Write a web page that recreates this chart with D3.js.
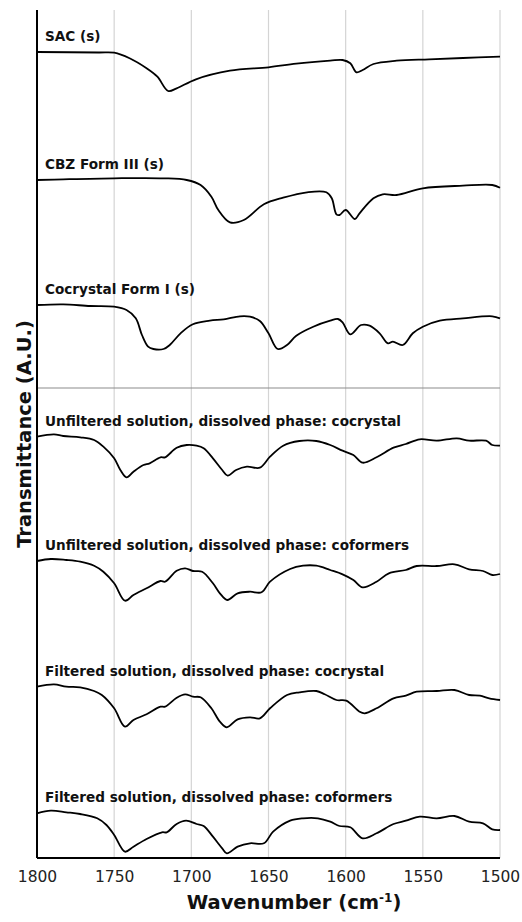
<!DOCTYPE html>
<html>
<head>
<meta charset="utf-8">
<script src="https://cdn.jsdelivr.net/npm/d3@7"></script>
<style>
  body { margin: 0; background: #fff; }
  text { font-family: "DejaVu Sans", Verdana, sans-serif; }
</style>
</head>
<body>
<svg id="chart"></svg>
<script>
// Spectra (wavenumber in cm-1, transmittance in offset A.U.)
const sacWn = [1800, 1760, 1750, 1740, 1729, 1722, 1715, 1709.5, 1697, 1675, 1650, 1632, 1610, 1602, 1597, 1593, 1589, 1582, 1567, 1546, 1524, 1500];
const sacT  = [80.6, 80.55, 80.53, 79.97, 78.97, 78.13, 76.7, 76.97, 77.87, 78.73, 79.07, 79.43, 79.73, 79.8, 79.47, 78.57, 78.8, 79.4, 79.73, 79.87, 80.0, 80.13];

const cbzWn = [1800, 1783, 1750, 1718, 1703, 1694, 1687, 1682.5, 1675, 1666, 1653, 1640.5, 1625, 1612.5, 1609, 1606, 1604, 1600, 1594, 1591, 1582, 1576, 1567, 1550, 1524, 1505, 1500];
const cbzT  = [67.8, 67.87, 67.97, 67.97, 67.8, 67.3, 66.13, 64.8, 63.57, 63.8, 65.37, 66.03, 66.57, 66.57, 65.97, 64.37, 64.3, 64.8, 63.9, 64.47, 65.97, 66.37, 66.3, 66.97, 67.23, 67.3, 67.03];

const cocWn = [1800, 1783, 1765.5, 1750, 1742, 1736, 1732, 1728, 1724.6, 1718, 1714, 1707, 1699, 1688, 1679, 1668.5, 1662, 1655.6, 1650, 1644, 1638, 1632, 1621, 1610, 1605, 1602, 1597, 1590, 1584.5, 1578, 1572.6, 1569.4, 1563, 1556.5, 1550, 1539, 1524, 1505, 1500];
const cocT  = [55.3, 55.37, 55.2, 55.13, 54.8, 53.97, 52.3, 51.13, 50.9, 50.9, 51.3, 52.47, 53.37, 53.73, 53.87, 54.17, 54.13, 53.7, 52.47, 50.9, 51.3, 52.23, 53.13, 53.73, 53.9, 53.57, 52.37, 53.3, 53.23, 52.47, 51.47, 51.63, 51.3, 52.47, 53.13, 53.73, 53.97, 54.17, 53.97];

const ucWn = [1800, 1789, 1783, 1772, 1763, 1757, 1750, 1746, 1742, 1737.5, 1731, 1727, 1720, 1717, 1709.5, 1703, 1696.6, 1692, 1686, 1680, 1676.5, 1671, 1664, 1655.6, 1649, 1640.5, 1630, 1619, 1610, 1602, 1595, 1589, 1580, 1569, 1561, 1552, 1541, 1528, 1520, 1509, 1505, 1500];
const ucT  = [42.13, 42.37, 42.2, 42.07, 41.8, 41.13, 39.97, 38.8, 38.07, 38.63, 39.3, 39.47, 40.07, 40.07, 41.03, 41.3, 41.23, 40.97, 39.97, 38.8, 38.23, 38.8, 39.13, 39.03, 40.13, 41.23, 41.7, 41.7, 41.3, 40.73, 40.3, 39.53, 40.07, 41.03, 41.4, 41.87, 41.73, 41.97, 41.73, 41.73, 41.3, 41.23];

const ufWn = [1800, 1791, 1781, 1772, 1763, 1757, 1750, 1743, 1737.5, 1729, 1720, 1717, 1709.5, 1704, 1699, 1693, 1686, 1681.5, 1676.7, 1670, 1662, 1654.5, 1649, 1636, 1627.6, 1619, 1610, 1602, 1595, 1589, 1580, 1572, 1561, 1554, 1541, 1529.5, 1520, 1511, 1505, 1500];
const ufT  = [29.7, 29.9, 29.8, 29.63, 29.23, 28.63, 27.47, 25.73, 26.3, 26.97, 27.7, 27.63, 28.73, 28.97, 28.7, 28.63, 27.47, 26.47, 25.8, 26.47, 26.63, 26.57, 27.63, 28.9, 29.23, 29.23, 28.8, 28.37, 27.8, 27.07, 27.63, 28.47, 28.8, 29.2, 29.2, 29.37, 28.87, 28.7, 28.3, 28.4];

const fcWn = [1800, 1789, 1781, 1772, 1763, 1758, 1750, 1743, 1737.5, 1729, 1720, 1717, 1709.5, 1704, 1699, 1694, 1687, 1681.5, 1677, 1670, 1662, 1655.6, 1649, 1638, 1630, 1619, 1613.6, 1606, 1599.6, 1591, 1587.7, 1580, 1569, 1561, 1554, 1541, 1529.5, 1520, 1513, 1507, 1500];
const fcT  = [17.13, 17.37, 17.13, 17.07, 16.7, 16.3, 14.97, 13.13, 13.8, 14.37, 15.13, 15.13, 16.03, 16.37, 16.13, 16.07, 14.97, 13.63, 13.07, 13.87, 14.07, 13.97, 14.97, 16.3, 16.57, 16.7, 16.37, 15.8, 15.73, 14.63, 14.47, 14.97, 15.97, 16.23, 16.63, 16.7, 16.8, 16.3, 16.23, 15.97, 15.8];

const ffWn = [1800, 1791, 1781, 1772, 1761, 1755, 1750, 1743, 1737.5, 1729, 1719, 1716, 1709.5, 1703.4, 1696.6, 1692, 1686, 1680, 1677, 1670, 1662, 1653, 1647, 1636, 1627.6, 1618, 1610, 1604, 1597, 1589, 1580, 1569, 1561, 1552, 1541, 1529.5, 1520, 1511, 1505, 1500];
const ffT  = [4.47, 4.73, 4.57, 4.4, 3.97, 3.3, 2.3, 0.63, 1.13, 1.9, 2.57, 2.57, 3.4, 3.73, 3.4, 3.2, 2.13, 0.97, 0.47, 1.13, 1.47, 1.47, 2.63, 3.73, 3.97, 3.97, 3.63, 3.2, 3.07, 1.97, 2.47, 3.4, 3.73, 4.13, 3.97, 4.2, 3.63, 3.47, 2.87, 2.8];

const seriesNames = [
    "SAC (s)",
    "CBZ Form III (s)",
    "Cocrystal Form I (s)",
    "Unfiltered solution, dissolved phase: cocrystal",
    "Unfiltered solution, dissolved phase: coformers",
    "Filtered solution, dissolved phase: cocrystal",
    "Filtered solution, dissolved phase: coformers"
];
const seriesWn = [sacWn, cbzWn, cocWn, ucWn, ufWn, fcWn, ffWn];
const seriesT = [sacT, cbzT, cocT, ucT, ufT, fcT, ffT];

const xTicks = [1800, 1750, 1700, 1650, 1600, 1550, 1500];
const xDomain = [1800, 1500];
const yDomain = [0, 84.8];
const dividerLevel = 47.0;   // separates solid spectra from solution spectra

// ---- layout
const config = {
    width: 522,
    height: 922,
    margin: { top: 10, right: 22, bottom: 64, left: 37 }
};
const innerW = config.width - config.margin.left - config.margin.right;
const innerH = config.height - config.margin.top - config.margin.bottom;

const svg = d3.select("#chart")
    .attr("width", config.width)
    .attr("height", config.height);

const chart = svg.append("g")
    .attr("transform", `translate(${config.margin.left},${config.margin.top})`);

const xScale = d3.scaleLinear().domain(xDomain).range([0, innerW]);
const yScale = d3.scaleLinear().domain(yDomain).range([innerH, 0]);

// vertical gridlines
chart.selectAll(".grid")
    .data(xTicks.slice(1))
    .enter()
    .append("line")
    .attr("class", "grid")
    .attr("x1", d => xScale(d))
    .attr("x2", d => xScale(d))
    .attr("y1", 0)
    .attr("y2", innerH)
    .attr("stroke", "#d4d4d4")
    .attr("stroke-width", 1.2);

// divider between solids and solutions
chart.append("line")
    .attr("x1", 0)
    .attr("x2", innerW)
    .attr("y1", yScale(dividerLevel))
    .attr("y2", yScale(dividerLevel))
    .attr("stroke", "#8c8c8c")
    .attr("stroke-width", 1.2);

// spectra
const line = d3.line()
    .x(d => xScale(d.wn))
    .y(d => yScale(d.t))
    .curve(d3.curveCatmullRom.alpha(0.5));

const spectra = seriesNames.map((name, i) => ({
    name: name,
    points: seriesWn[i].map((wn, j) => ({ wn: wn, t: seriesT[i][j] }))
}));

chart.selectAll(".spectrum")
    .data(spectra)
    .enter()
    .append("path")
    .attr("class", "spectrum")
    .attr("fill", "none")
    .attr("stroke", "#000")
    .attr("stroke-width", 1.8)
    .attr("stroke-linejoin", "round")
    .attr("d", d => line(d.points));

// series labels sit just above the start of each trace
chart.selectAll(".label")
    .data(spectra)
    .enter()
    .append("text")
    .attr("class", "label")
    .attr("x", 8)
    .attr("y", d => yScale(d.points[0].t) - 11)
    .attr("font-size", "13.6px")
    .attr("font-weight", "bold")
    .attr("fill", "#111")
    .text(d => d.name);

// axes
const xAxis = d3.axisBottom(xScale)
    .tickValues(xTicks)
    .tickSize(0)
    .tickPadding(13)
    .tickFormat(d3.format("d"));

const xAxisG = chart.append("g")
    .attr("class", "axis x-axis")
    .attr("transform", `translate(0,${innerH})`)
    .call(xAxis);
xAxisG.select(".domain").remove();
xAxisG.selectAll("text")
    .attr("font-family", "DejaVu Sans, Verdana, sans-serif")
    .attr("font-size", "15.5px")
    .attr("fill", "#222");

chart.append("line")
    .attr("x1", 0).attr("x2", 0)
    .attr("y1", 0).attr("y2", innerH)
    .attr("stroke", "#000")
    .attr("stroke-width", 2);

chart.append("line")
    .attr("x1", 0).attr("x2", innerW)
    .attr("y1", innerH).attr("y2", innerH)
    .attr("stroke", "#000")
    .attr("stroke-width", 2);

// axis titles
const xTitle = svg.append("text")
    .attr("x", 294)
    .attr("y", config.height - 13)
    .attr("text-anchor", "middle")
    .attr("font-size", "19.5px")
    .attr("font-weight", "bold")
    .attr("fill", "#111");
xTitle.append("tspan").text("Wavenumber (cm");
xTitle.append("tspan").attr("dy", -7).attr("font-size", "12px").text("-1");
xTitle.append("tspan").attr("dy", 7).text(")");

svg.append("text")
    .attr("transform", `translate(31,${config.margin.top + innerH / 2}) rotate(-90)`)
    .attr("text-anchor", "middle")
    .attr("font-size", "19.5px")
    .attr("font-weight", "bold")
    .attr("fill", "#111")
    .text("Transmittance (A.U.)");
</script>
</body>
</html>
